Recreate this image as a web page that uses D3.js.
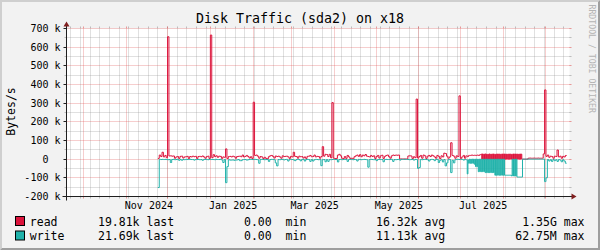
<!DOCTYPE html>
<html><head><meta charset="utf-8">
<script src="https://cdn.jsdelivr.net/npm/d3@7"></script>
<style>
html,body{margin:0;padding:0;background:#F2F2F2;}
svg{display:block;}
text{font-family:"DejaVu Sans Mono",monospace;fill:#000;}
</style>
</head><body>
<svg id="chart" width="600" height="250"></svg>
<script>
// ---------------- data (averages in k Bytes/s) ----------------
// daily values, Nov 24 2024 .. Jun 30 2025 and Aug 15 .. Sep 15 2025
// 12-hour values during the busy period (Jul 1 .. Aug 31 2025)
const seriesStart = "2024-11-24";
const readNov = [4, 22, 14, 37, 12, 20, 8];
const readDec = [656, 17, 18, 16, 17, 5, 12, 14, 4, 15, 16, 6, 12, 13, 15, 3, 14, 12, 16, 13, 15, 4, 14, 15, 13, 17, 12, 5, 14, 16, 4];
const readJan = [665, 8, 24, 14, 18, 10, 16, 15, 4, 12, 10, 55, 3, 14, 15, 12, 16, 13, 5, 14, 15, 16, 13, 22, 12, 15, 20, 14, 6, 13, 4];
const readFeb = [305, 20, 22, 16, 5, 14, 12, 3, 10, 4, 2, 13, 18, 20, 15, 6, 17, 14, 16, 12, 5, 18, 14, 15, 16, 12, 4, 15];
const readMar = [12, 37, 15, 14, 5, 16, 13, 14, 6, 12, 4, 15, 16, 20, 13, 14, 22, 12, 15, 14, 5, 14, 67, 16, 26, 25, 14, 26, 8, 303, 5];
const readApr = [3, 4, 22, 26, 18, 5, 3, 14, 4, 20, 12, 3, 5, 2, 13, 18, 22, 15, 24, 13, 22, 18, 25, 16, 14, 12, 20, 14, 18, 4];
const readMay = [14, 20, 6, 18, 21, 4, 15, 20, 22, 13, 5, 18, 22, 20, 22, 21, 22, 1, 1, 1, 1, 1, 1, 17, 18, 17, 3, 13, 8, 322, 6];
const readJun = [14, 20, 5, 22, 18, 4, 16, 20, 14, 22, 18, 12, 5, 20, 15, 3, 18, 12, 32, 30, 16, 5, 12, 88, 20, 16, 5, 18, 14, 339];
const readJul12h = [4, 4, 12, 12, 20, 20, 5, 5, 18, 18, 14, 14,
  20, 20, 20, 20, 22, 22, 20, 20, 21, 21, 20, 20, 22, 22, 20, 20, 24, 24,
  27, 0, 28, 0, 27, 0, 28, 0, 27, 0, 26, 0, 28, 0, 27, 0, 27, 0, 28, 0, 26, 0, 27, 0, 28, 0, 27, 0, 26, 0, 28, 0];
const readAug12h = [27, 0, 28, 0, 27, 0, 26, 0, 28, 0, 27, 0, 26, 0, 28, 0, 27, 0, 28, 0, 27, 0, 26, 0, 28, 0, 27, 0,
  0, 0, 0, 0, 0, 0, 0, 0,
  5, 5, 6, 6, 5, 5, 5, 5, 6, 6, 5, 5, 5, 5, 6, 6, 5, 5, 5, 5, 5, 5,
  28, 28, 371, 371];
const readSep = [15, 22, 10, 16, 14, 5, 16, 14, 49, 12, 16, 5, 15, 12, 19.81];

const writeNov = [-152, -1, -2, -1, -2, -1, -2];
const writeDec = [-3, -2, -18, -2, -1, -3, -2, -1, -6, -2, -6, -2, -3, -1, -2, -2, -1, -2, -2, -5, -2, -2, -1, -3, -2, -6, -2, -1, -2, -3, -1];
const writeJan = [-2, -1, -2, -3, -1, -2, -2, -1, -4, -18, -2, -126, -40, -3, -5, -5, -4, -6, -5, -4, -2, -8, -8, -3, -2, -2, -5, -3, -2, -1, -2];
const writeFeb = [-2, -1, -2, -3, -22, -2, -1, -2, -3, -2, -2, -12, -2, -1, -2, -3, -20, -36, -2, -3, -1, -2, -4, -2, -1, -10, -2, -2];
const writeMar = [-2, -4, -8, -2, -1, -2, -9, -2, -1, -10, -2, -1, -2, -12, -2, -10, -3, -1, -2, -3, -2, -35, -3, -2, -14, -2, -12, -2, -3, -2, -1];
const writeApr = [-2, -2, -15, -2, -1, -3, -2, -2, -1, -12, -2, -1, -2, -3, -2, -2, -10, -1, -2, -3, -2, -1, -2, -3, -43, -2, -1, -2, -3, -2];
const writeMay = [-8, -2, -1, -2, -2, -14, -2, -1, -2, -2, -2, -1, -12, -2, -3, -2, -1, -5, -1, -1, -1, -1, -1, -2, -3, -2, -1, -5, -2, -2, -49];
const writeJun = [-45, -2, -3, -2, -1, -2, -3, -10, -2, -1, -2, -8, -2, -1, -18, -6, -3, -15, -2, -36, -20, -3, -2, -72, -6, -20, -3, -2, -1, -2];
const writeJul12h = [-2, -2, -1, -1, -5, -5, -2, -2, -3, -3, -79, -4,
  -22, 0, -22, 0, -22, 0, -22, 0, -27, 0, -40, 0, -40, 0,
  -67, 0, -67, 0, -67, 0, -67, 0, -67, 0,
  -72, 0, -72, 0, -72, 0, -72, 0, -72, 0, -72, 0, -72, 0,
  -86, 0, -86, 0, -86, 0, -86, 0, -86, 0, -86, 0];
const writeAug12h = [-86, 0, -86, -86, -86, -86, -86, -86, -86, -86, -86, -86,
  -90, 0, -90, 0, -90, 0, -90, 0, -96, -96, -96, -96, -96, -96, -96, -96,
  0, 0, 0, 0, 0, 0, 0, 0, 0, 0, 0, 0, 0, 0, 0, 0, 0, 0, 0, 0, 0, 0, 0, 0, 0, 0, 0, 0, 0, 0, 0, 0,
  -120, -120];
const writeSep = [-100, -2, -10, -3, -12, -2, -8, -3, -12, -2, -5, -14, -3, -10, -21.69];

const yTicks = [-200000, -100000, 0, 100000, 200000, 300000, 400000, 500000, 600000, 700000];
const xLabelMonths = ["2024-11-01", "2025-01-01", "2025-03-01", "2025-05-01", "2025-07-01"];
const title = "Disk Traffic (sda2) on x18";
const unitLabel = "Bytes/s";
const watermark = "RRDTOOL / TOBI OETIKER";
const legendNames = ["read", "write"];
const legendLast = ["19.81k", "21.69k"];
const legendMin = ["0.00", "0.00"];
const legendAvg = ["16.32k", "11.13k"];
const legendMax = ["1.35G", "62.75M"];

// ---------------- layout ----------------
const W = 600, H = 250;
const X0 = 66.5, X1 = 569.5, Y0 = 196.5, Y1 = 28.5;
const colRead = "#DC143C", colWrite = "#20B2AA";
const colGrid = "rgba(143,143,143,0.55)", colMGrid = "rgba(222,79,79,0.55)";
const colAxis = "#1F1F1F", colArrow = "#801F1F";

const svg = d3.select("#chart");
const x = d3.scaleUtc()
  .domain([new Date(Date.UTC(2024, 8, 18, 20)), new Date(Date.UTC(2025, 8, 18, 1))])
  .range([X0, X1]);
const y = d3.scaleLinear().domain([-200000, 700000]).range([Y0, Y1]);
const crisp = v => Math.round(v - 0.5) + 0.5;

// background + shade border
svg.append("rect").attr("width", W).attr("height", H).attr("fill", "#F2F2F2");
svg.append("path").attr("d", `M0,0L${W},0L${W-2},2L2,2L2,${H-2}L0,${H}Z`).attr("fill", "#CFCFCF");
svg.append("path").attr("d", `M${W},0L${W},${H}L0,${H}L2,${H-2}L${W-2},${H-2}L${W-2},2Z`).attr("fill", "#9E9E9E");

// canvas
svg.append("rect").attr("x", X0).attr("y", Y1).attr("width", X1 - X0).attr("height", Y0 - Y1).attr("fill", "#fff");

const g = svg.append("g");
function hline(yy, col) {
  const yv = crisp(y(yy));
  g.append("line").attr("x1", X0 - 2).attr("x2", X0).attr("y1", yv).attr("y2", yv).attr("stroke", col);
  g.append("line").attr("x1", X1).attr("x2", X1 + 2).attr("y1", yv).attr("y2", yv).attr("stroke", col);
  g.append("line").attr("x1", X0).attr("x2", X1).attr("y1", yv).attr("y2", yv)
    .attr("stroke", col).attr("stroke-dasharray", "1,1");
}
function vline(t, col) {
  const xv = crisp(x(t));
  g.append("line").attr("x1", xv).attr("x2", xv).attr("y1", Y1 - 2).attr("y2", Y1).attr("stroke", col);
  g.append("line").attr("x1", xv).attr("x2", xv).attr("y1", Y0).attr("y2", Y0 + 2).attr("stroke", col);
  g.append("line").attr("x1", xv).attr("x2", xv).attr("y1", Y0).attr("y2", Y1)
    .attr("stroke", col).attr("stroke-dasharray", "1,1");
}
const [t0, t1] = x.domain();
d3.range(-200000, 700001, 50000).filter(v => v % 100000 !== 0).forEach(v => hline(v, colGrid));
d3.utcSunday.range(t0, t1).forEach(t => vline(t, colGrid));
yTicks.forEach(v => hline(v, colMGrid));
d3.utcMonth.range(d3.utcMonth.ceil(t0), t1).forEach(t => vline(t, colMGrid));

// ---------------- data lines ----------------
const start = new Date(seriesStart + "T00:00:00Z");
function series(chunks) {
  const pts = [];
  let t = start;
  let last = 0;
  chunks.forEach(([vals, hours]) => {
    vals.forEach(v => {
      pts.push({ t, v: v * 1000 });
      last = v;
      t = d3.utcHour.offset(t, hours);
    });
  });
  pts.push({ t, v: last * 1000 });
  return pts;
}
const readPts = series([[readNov, 24], [readDec, 24], [readJan, 24], [readFeb, 24], [readMar, 24], [readApr, 24],
  [readMay, 24], [readJun, 24], [readJul12h, 12], [readAug12h, 12], [readSep, 24]]);
const writePts = series([[writeNov, 24], [writeDec, 24], [writeJan, 24], [writeFeb, 24], [writeMar, 24], [writeApr, 24],
  [writeMay, 24], [writeJun, 24], [writeJul12h, 12], [writeAug12h, 12], [writeSep, 24]]);
const line = d3.line().x(d => x(d.t)).y(d => y(d.v)).curve(d3.curveStepAfter);
svg.append("path").datum(readPts).attr("d", line).attr("fill", "none").attr("stroke", colRead).attr("stroke-width", 1);
svg.append("path").datum(writePts).attr("d", line).attr("fill", "none").attr("stroke", colWrite).attr("stroke-width", 1);

// ---------------- axes ----------------
svg.append("line").attr("x1", X0 - 4).attr("x2", X1 + 4).attr("y1", Y0).attr("y2", Y0).attr("stroke", colAxis);
svg.append("line").attr("x1", X0).attr("x2", X0).attr("y1", Y0 + 4).attr("y2", Y1 - 4).attr("stroke", colAxis);
svg.append("path").attr("d", `M${X1+2},${Y0-3}L${X1+2},${Y0+3}L${X1+7},${Y0}Z`).attr("fill", colArrow);
svg.append("path").attr("d", `M${X0-3},${Y1-2}L${X0+3},${Y1-2}L${X0},${Y1-7}Z`).attr("fill", colArrow);
const charW = 10 * 0.602;
yTicks.forEach(v => {
  const yv = crisp(y(v));
  svg.append("line").attr("x1", X0 - 3).attr("x2", X0).attr("y1", yv).attr("y2", yv).attr("stroke", colAxis);
  const num = v === 0 ? "0" : String(v / 1000);
  svg.append("text").attr("x", 60.5 - 2 * charW).attr("y", yv + 3.6).attr("text-anchor", "end")
    .attr("font-size", 10).text(num);
  if (v !== 0) svg.append("text").attr("x", 60.5).attr("y", yv + 3.6).attr("text-anchor", "end")
    .attr("font-size", 10).text("k");
});
xLabelMonths.forEach(m => {
  const t = new Date(m + "T00:00:00Z");
  const tl = new Date(t.getTime() + 16.5 * 864e5);
  svg.append("text").attr("x", x(tl)).attr("y", 208.6).attr("text-anchor", "middle")
    .attr("font-size", 10).text(d3.utcFormat("%b %Y")(t));
});

svg.append("text").attr("x", 300).attr("y", 23).attr("text-anchor", "middle").attr("font-size", 13.3).text(title);
svg.append("text").attr("transform", "translate(15,111.5) rotate(-90)").attr("text-anchor", "middle")
  .attr("font-size", 11.5).text(unitLabel);
svg.append("text").attr("transform", "translate(588.5,4.5) rotate(90)").attr("text-anchor", "start")
  .attr("font-size", 8.2).style("fill", "#b4b4b4").text(watermark);

const legCols = [colRead, colWrite];
legendNames.forEach((n, i) => {
  const by = 225.5 + i * 14.5;
  svg.append("rect").attr("x", 15.5).attr("y", by - 9).attr("width", 9).attr("height", 9)
    .attr("fill", legCols[i]).attr("stroke", "#000").attr("stroke-width", 1);
  const fs = 11.5;
  svg.append("text").attr("x", 29.8).attr("y", by).attr("font-size", fs).text(n);
  svg.append("text").attr("x", 98).attr("y", by).attr("font-size", fs).text(legendLast[i] + " last");
  svg.append("text").attr("x", 244).attr("y", by).attr("font-size", fs).style("white-space", "pre").text(legendMin[i] + "  min");
  svg.append("text").attr("x", 376).attr("y", by).attr("font-size", fs).text(legendAvg[i] + " avg");
  svg.append("text").attr("x", 584.5).attr("y", by).attr("text-anchor", "end").attr("font-size", fs).text(legendMax[i] + " max");
});
</script>
</body></html>
